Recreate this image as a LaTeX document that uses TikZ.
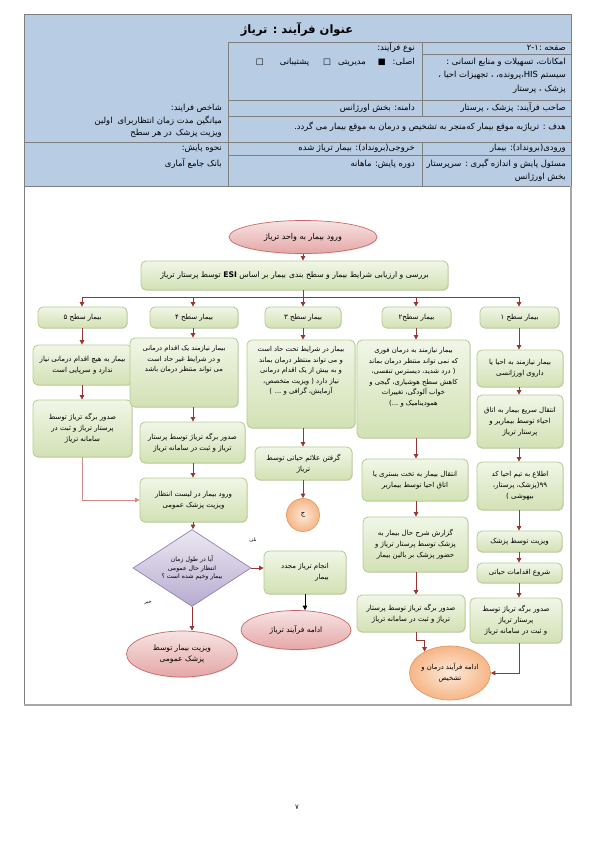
\documentclass[tikz,border=0pt]{standalone}
\usepackage{fontspec}
\newfontfamily\ar[Script=Arabic]{DejaVu Sans}
\TeXXeTstate=1
\usetikzlibrary{arrows.meta,shapes.geometric,shadows}
\newcommand{\rtline}[1]{\beginR #1\endR}
\newcommand{\ltrw}[1]{\beginL #1\endL{}}
\definecolor{tblue}{HTML}{B8CCE4}
\definecolor{tline}{HTML}{7F7F7F}
\definecolor{gtop}{HTML}{F1F6E7}
\definecolor{gbot}{HTML}{D2E1B4}
\definecolor{gborder}{HTML}{B5CC8C}
\definecolor{arr}{HTML}{953735}
\definecolor{arrlight}{HTML}{D48A88}
\definecolor{ptop}{HTML}{F7E3E3}
\definecolor{pbot}{HTML}{E4A7A6}
\definecolor{pborder}{HTML}{C86A67}
\definecolor{otop}{HTML}{FDE9D9}
\definecolor{obot}{HTML}{F6B687}
\definecolor{oborder}{HTML}{E49A63}
\definecolor{vtop}{HTML}{ECE8F2}
\definecolor{vbot}{HTML}{B7ABD0}
\definecolor{vborder}{HTML}{9381B4}
\definecolor{fgray}{HTML}{A6A6A6}
\tikzset{
  gbox/.style={draw=gborder, line width=0.8pt, rounded corners=5pt, top color=gtop, bottom color=gbot,
    align=center, inner sep=1pt, font=\ar\fontsize{7}{11}\selectfont,
    drop shadow={opacity=0.25, shadow xshift=0.8pt, shadow yshift=-0.9pt}},
  ttext/.style={font=\ar\fontsize{6.8}{10.5}\selectfont, align=center, inner sep=0pt},
  pell/.style={ellipse, draw=pborder, line width=0.7pt, top color=ptop, bottom color=pbot,
    align=center, inner sep=0pt, font=\ar\fontsize{7.5}{11}\selectfont,
    drop shadow={opacity=0.2, shadow xshift=0.8pt, shadow yshift=-0.9pt}},
  oell/.style={ellipse, draw=oborder, line width=0.7pt, inner color=otop, outer color=obot,
    align=center, inner sep=0pt, font=\ar\fontsize{6.8}{11}\selectfont},
  decide/.style={diamond, draw=vborder, line width=0.7pt, top color=vtop, bottom color=vbot,
    align=center, inner sep=0pt, font=\ar\fontsize{6.2}{8.5}\selectfont},
  tbl/.style={font=\ar\fontsize{8.4}{9}\selectfont, anchor=east, inner sep=0pt},
  flow/.style={draw=arr, line width=0.8pt, -{Triangle[length=4.5pt,width=4.5pt]}},
  flowl/.style={draw=arr, line width=0.8pt},
  tgrid/.style={draw=tline, line width=0.6pt},
}
\newcommand{\gbx}[7][]{\node[gbox,minimum width={(#5)-(#3)},minimum height={(#6)-(#4)},#1] (#2) at ({((#3)+(#5))/2},{((#4)+(#6))/2}) {#7};}
\begin{document}
\begin{tikzpicture}[x=1pt,y=-1pt]
\useasboundingbox (0,0) rectangle (595,842);
\fill[white] (0,0) rectangle (595,842);
% ---------- header table ----------
\fill[tblue] (24,14) rectangle (571,186);
\draw[tgrid] (24,14) rectangle (571,186);
\draw[tgrid] (228,42) -- (571,42);
\draw[tgrid] (228,42) -- (228,186);
\draw[tgrid] (422,42) -- (422,116);
\draw[tgrid] (422,142) -- (422,186);
\draw[tgrid] (422,54) -- (571,54);
\draw[tgrid] (228,100) -- (571,100);
\draw[tgrid] (228,116) -- (571,116);
\draw[tgrid] (24,142) -- (571,142);
\draw[tgrid] (228,155) -- (571,155);
% frame
\draw[draw=tline, line width=0.6pt] (24,186) -- (24,705);
\draw[draw=fgray, line width=1.3pt] (24,705) -- (571,705) -- (571,186);
% table texts
\node[font=\ar\bfseries\fontsize{11.5}{13}\selectfont] (title) at (297,29) {\rtline{عنوان فرآیند : تریاژ}};
\node[tbl] (tpage) at (566,48) {\rtline{صفحه :\ltrw{۲-۱}}};
\node[tbl] (tres1) at (566,62) {\rtline{امکانات، تسهیلات و منابع انسانی :}};
\node[tbl] (tres2) at (566,75) {\rtline{سیستم \ltrw{HIS}،پرونده، ، تجهیزات احیا ،}};
\node[tbl] (tres3) at (566,89) {\rtline{پزشک ، پرستار}};
\node[tbl] (ttype) at (415,48) {\rtline{نوع فرآیند:}};
\node[tbl] (ttype2) at (415,62) {\rtline{اصلی:\hspace{7pt}■\hspace{12pt}مدیریتی\hspace{7pt}□\hspace{14pt}پشتیبانی\hspace{16pt}□}};
\node[tbl] (towner) at (566,108) {\rtline{صاحب فرآیند: پزشک ، پرستار}};
\node[tbl] (tdomain) at (415,108) {\rtline{دامنه: بخش اورژانس}};
\node[tbl] (tgoal) at (566,127) {\rtline{هدف : تریاژبه موقع بیمار که‌منجر به تشخیص و درمان به موقع بیمار می گردد.}};
\node[tbl] (tin) at (566,148) {\rtline{ورودی(برونداد): بیمار}};
\node[tbl] (tout) at (415,148) {\rtline{خروجی(برونداد): بیمار تریاژ شده}};
\node[tbl] (tresp1) at (566,164) {\rtline{مسئول پایش و اندازه گیری : سرپرستار}};
\node[tbl] (tresp2) at (566,177) {\rtline{بخش اورژانس}};
\node[tbl] (tper) at (415,164) {\rtline{دوره پایش: ماهانه}};
\node[tbl] (tind1) at (222,108) {\rtline{شاخص فرایند:}};
\node[tbl] (tind2) at (222,121) {\rtline{میانگین مدت زمان انتظاربرای\hspace{5pt}اولین}};
\node[tbl] (tind3) at (222,133) {\rtline{ویزیت پزشک\hspace{4pt}در هر سطح}};
\node[tbl] (tmon1) at (222,148) {\rtline{نحوه پایش:}};
\node[tbl] (tmon2) at (222,164) {\rtline{بانک جامع آماری}};
% ---------- column coordinates ----------
\coordinate (x5) at (82,0);
\coordinate (x4) at (193,0);
\coordinate (x3) at (303,0);
\coordinate (x2) at (416,0);
\coordinate (x1) at (519,0);
\coordinate (bus) at (303,297);
% ---------- flowchart nodes ----------
\node[pell, minimum width=148pt, minimum height=33pt, font=\ar\fontsize{8}{10}\selectfont] (start) at (303,237) {\rtline{ورود بیمار به واحد تریاژ}};
\gbx[font=\ar\fontsize{7.7}{10}\selectfont]{assess}{141}{261}{448}{290}{\rtline{بررسی و ارزیابی شرایط بیمار و سطح بندی\hspace{3pt}بیمار بر اساس {\bfseries\ltrw{ESI}} توسط پرستار تریاژ}}
\gbx{l5}{38}{307}{127}{328}{\rtline{بیمار سطح ۵}}
\gbx{l4}{150}{307}{238}{328}{\rtline{بیمار سطح ۴}}
\gbx{l3}{265}{307}{341}{328}{\rtline{بیمار سطح ۳}}
\gbx{l2}{382}{307}{451}{328}{\rtline{بیمار سطح۲}}
\gbx{l1}{480}{307}{559}{328}{\rtline{بیمار سطح ۱}}
% column 5
\gbx{c5a}{33}{345}{132}{385}{\rtline{بیمار به هیچ اقدام درمانی نیاز}\\\rtline{ندارد و سرپایی است}}
\gbx{c5b}{33}{400}{132}{457}{\rtline{صدور برگه تریاژ توسط}\\\rtline{پرستار تریاژ و ثبت در}\\\rtline{سامانه تریاژ}}
% column 4
\gbx{c4a}{130}{338}{238}{407}{}
\node[ttext, below=8pt] (c4at) at (c4a.north) {\rtline{بیمار نیازمند یک اقدام درمانی}\\\rtline{و در شرایط غیر حاد است}\\\rtline{می تواند منتظر درمان باشد}};
\gbx{c4b}{140}{422}{245}{463}{\rtline{صدور برگه تریاژ توسط پرستار}\\\rtline{تریاژ و ثبت در سامانه تریاژ}}
\gbx{c4c}{140}{478}{247}{522}{\rtline{ورود بیمار در لیست انتظار}\\\rtline{ویزیت پزشک عمومی}}
\node[decide, minimum width=118pt, minimum height=77pt, aspect=1.53] (dia) at (192,568) {\rtline{آیا در طول زمان}\\\rtline{انتظار حال عمومی}\\\rtline{بیمار وخیم شده است ؟}};
\node[font=\ar\fontsize{5}{6}\selectfont] (yes) at (253,540) {\rtline{بلی}};
\node[font=\ar\fontsize{5}{6}\selectfont] (no) at (148,603) {\rtline{خیر}};
\gbx[align=right]{retri}{264}{551}{346}{594}{\rtline{انجام تریاژ مجدد}\\\rtline{بیمار}}
\node[pell, minimum width=110pt, minimum height=39pt] (cont) at (296,630) {\rtline{ادامه فرآیند تریاژ}};
\node[pell, minimum width=111pt, minimum height=46pt] (visit) at (182,654) {\rtline{ویزیت بیمار توسط}\\\rtline{پزشک عمومی}};
% column 3
\gbx{c3a}{247}{340}{355}{428}{}
\node[ttext, below=7pt] (c3at) at (c3a.north) {\rtline{بیمار در شرایط تحت حاد است}\\\rtline{و می تواند منتظر درمان بماند}\\\rtline{و به بیش از یک اقدام درمانی}\\\rtline{نیاز دارد ( ویزیت متخصص،}\\\rtline{آزمایش، گرافی و ... )}};
\gbx{c3b}{255}{447}{352}{480}{\rtline{گرفتن علائم حیاتی توسط}\\\rtline{تریاژ}}
\node[oell, circle, minimum size=33pt] (jc) at (303,515) {\rtline{ج}};
% column 2
\gbx{c2a}{357}{340}{470}{438}{}
\node[ttext, below=8pt] (c2at) at (c2a.north) {\rtline{بیمار نیازمند به درمان فوری}\\\rtline{که نمی تواند منتظر درمان بماند}\\\rtline{( درد شدید، دیسترس تنفسی،}\\\rtline{کاهش سطح هوشیاری، گیجی و}\\\rtline{خواب آلودگی، تغییرات}\\\rtline{همودینامیک و ...)}};
\gbx{c2b}{362}{459}{468}{501}{\rtline{انتقال بیمار به تخت بستری یا}\\\rtline{اتاق احیا توسط بیماربر}}
\gbx{c2c}{363}{517}{468}{572}{\rtline{گزارش شرح حال بیمار به}\\\rtline{پزشک توسط پرستار تریاژ و}\\\rtline{حضور پزشک بر بالین بیمار}}
\gbx{c2d}{357}{595}{465}{632}{\rtline{صدور برگه تریاژ توسط پرستار}\\\rtline{تریاژ و ثبت در سامانه تریاژ}}
\node[oell, minimum width=76pt, minimum height=54pt] (e2) at (450,673) {\rtline{ادامه فرآیند درمان و}\\\rtline{تشخیص}};
% column 1
\gbx{c1a}{477}{350}{563}{387}{\rtline{بیمار نیازمند به احیا یا}\\\rtline{داروی اورژانسی}}
\gbx{c1b}{477}{395}{563}{448}{\rtline{انتقال سریع بیمار به اتاق}\\\rtline{احیاء توسط بیماربر و}\\\rtline{پرستار تریاژ}}
\gbx{c1c}{477}{462}{563}{510}{\rtline{اطلاع به تیم احیا کد}\\\rtline{۹۹(پزشک، پرستار،}\\\rtline{بیهوشی )}}
\gbx{c1d}{477}{531}{562}{552}{\rtline{ویزیت توسط پزشک}}
\gbx{c1e}{477}{563}{562}{583}{\rtline{شروع اقدامات حیاتی}}
\gbx{c1f}{470}{598}{562}{643}{\rtline{صدور برگه تریاژ توسط}\\\rtline{پرستار تریاژ}\\\rtline{و ثبت در سامانه تریاژ}}
% page number
\node[font=\ar\fontsize{7}{8}\selectfont] (pnum) at (297,807) {۷};
% ---------- connectors ----------
\draw[flow] (start.south -| x3) -- (assess.north -| x3);
\draw[flowl] (assess.south -| x3) -- (bus);
\draw[flowl] (bus -| x5) -- (bus -| x1);
\foreach \c/\l in {x5/l5,x4/l4,x3/l3,x2/l2,x1/l1} \draw[flow] (bus -| \c) -- (\l.north -| \c);
% col 5
\draw[flow] (l5.south -| x5) -- (c5a.north -| x5);
\draw[flow] (c5a.south -| x5) -- (c5b.north -| x5);
\draw[flow, draw=arrlight] (c5b.south -| x5) |- (c4c.west);
% col 4
\draw[flow] (l4.south -| x4) -- (c4a.north -| x4);
\draw[flow] (c4a.south -| x4) -- (c4b.north -| x4);
\draw[flow] (c4b.south -| x4) -- (c4c.north -| x4);
\draw[flow] (c4c.south -| x4) -- (dia.north -| x4);
\draw[flow] (dia.east) -- (dia.east -| retri.west);
\draw[flow, draw=black] (retri.south) -- (retri.south |- cont.north);
\draw[flow] (dia.south) -- (dia.south |- visit.north);
% col 3
\draw[flow] (l3.south -| x3) -- (c3a.north -| x3);
\draw[flow] (c3a.south -| x3) -- (c3b.north -| x3);
\draw[flow] (c3b.south -| x3) -- (jc.north);
% col 2
\draw[flow] (l2.south -| x2) -- (c2a.north -| x2);
\draw[flow] (c2a.south -| x2) -- (c2b.north -| x2);
\draw[flow] (c2b.south -| x2) -- (c2c.north -| x2);
\draw[flow] (c2c.south -| x2) -- (c2d.north -| x2);
\draw[flow] (c2d.south -| x2) -- ++(0,8) -| (e2.140);
% col 1
\draw[flow] (l1.south -| x1) -- (c1a.north -| x1);
\draw[flow] (c1a.south -| x1) -- (c1b.north -| x1);
\draw[flow] (c1b.south -| x1) -- (c1c.north -| x1);
\draw[flow] (c1c.south -| x1) -- (c1d.north -| x1);
\draw[flow] (c1d.south -| x1) -- (c1e.north -| x1);
\draw[flow] (c1e.south -| x1) -- (c1f.north -| x1);
\draw[flow] (c1f.south -| x1) |- (e2.east);
\end{tikzpicture}
\end{document}
